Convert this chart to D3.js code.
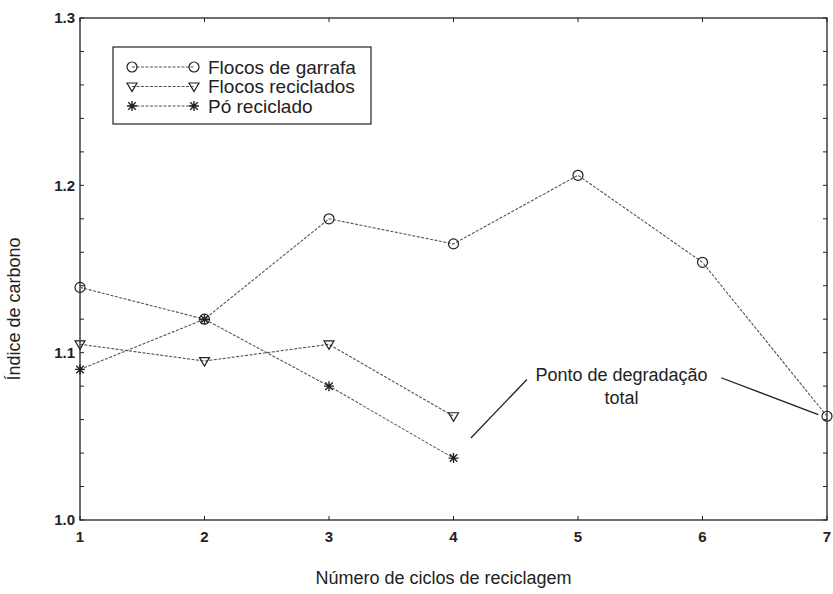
<!DOCTYPE html>
<html>
<head>
<meta charset="utf-8">
<script src="https://cdn.jsdelivr.net/npm/d3@7"></script>
<style>
  body { margin: 0; background: #fff; }
  text { font-family: "Liberation Sans", Arial, sans-serif; fill: #222; }
</style>
</head>
<body>
<div id="chart"></div>
<script>
// data
const ciclos = [1, 2, 3, 4, 5, 6, 7];
const flocosGarrafa = [1.139, 1.12, 1.18, 1.165, 1.206, 1.154, 1.062];
const flocosReciclados = [1.105, 1.095, 1.105, 1.062];
const poReciclado = [1.09, 1.12, 1.08, 1.037];
const yTicks = [1.0, 1.1, 1.2, 1.3];
const seriesNames = ["Flocos de garrafa", "Flocos reciclados", "Pó reciclado"];
const markers = ["circle", "triangle", "star"];

const width = 833, height = 594;
const marginTop = 18, marginRight = 6, marginBottom = 74, marginLeft = 80;
const lineColor = "#555";
const inkColor = "#222";

const x = d3.scaleLinear([1, 7], [marginLeft, width - marginRight]);
const y = d3.scaleLinear([1.0, 1.3], [height - marginBottom, marginTop]);

const svg = d3.select("#chart").append("svg")
    .attr("width", width)
    .attr("height", height)
    .attr("viewBox", [0, 0, width, height]);

// frame with inward ticks (integers on x, every 0.02 on y)
const minorY = d3.range(1.0, 1.3001, 0.02);
const tickLen = 4;

svg.append("rect")
    .attr("x", x(1)).attr("y", y(1.3))
    .attr("width", x(7) - x(1)).attr("height", y(1.0) - y(1.3))
    .attr("fill", "none").attr("stroke", inkColor).attr("stroke-width", 1.3);

const ticks = svg.append("g").attr("stroke", inkColor).attr("stroke-width", 1);
ticks.selectAll(".yl").data(minorY).join("line")
    .attr("x1", x(1)).attr("x2", x(1) + tickLen)
    .attr("y1", d => y(d)).attr("y2", d => y(d));
ticks.selectAll(".yr").data(minorY).join("line")
    .attr("x1", x(7)).attr("x2", x(7) - tickLen)
    .attr("y1", d => y(d)).attr("y2", d => y(d));
ticks.selectAll(".xb").data(ciclos).join("line")
    .attr("x1", d => x(d)).attr("x2", d => x(d))
    .attr("y1", y(1.0)).attr("y2", y(1.0) - tickLen);
ticks.selectAll(".xt").data(ciclos).join("line")
    .attr("x1", d => x(d)).attr("x2", d => x(d))
    .attr("y1", y(1.3)).attr("y2", y(1.3) + tickLen);

// tick labels
svg.append("g")
    .attr("font-size", 15).attr("font-weight", "bold").attr("text-anchor", "end")
    .selectAll("text").data(yTicks).join("text")
    .attr("x", marginLeft - 5)
    .attr("y", d => y(d))
    .attr("dy", "0.35em")
    .text(d => d3.format(".1f")(d));

svg.append("g")
    .attr("font-size", 15).attr("font-weight", "bold").attr("text-anchor", "middle")
    .selectAll("text").data(ciclos).join("text")
    .attr("x", d => x(d))
    .attr("y", y(1.0) + 22)
    .text(d => d);

// axis titles
svg.append("text")
    .attr("x", (x(1) + x(7)) / 2 - 10)
    .attr("y", height - 10)
    .attr("text-anchor", "middle")
    .attr("font-size", 18)
    .text("Número de ciclos de reciclagem");

svg.append("text")
    .attr("transform", `translate(20,${(y(1.0) + y(1.3)) / 2 + 40}) rotate(-90)`)
    .attr("text-anchor", "middle")
    .attr("font-size", 18)
    .text("Índice de carbono");

// marker drawing
function drawMarker(g, type, r) {
    if (type === "circle") {
        g.append("circle").attr("r", r).attr("fill", "none")
            .attr("stroke", inkColor).attr("stroke-width", 1.2);
    } else if (type === "triangle") {
        g.append("path")
            .attr("d", `M${-r},${-r * 0.7}L${r},${-r * 0.7}L0,${r}Z`)
            .attr("fill", "none").attr("stroke", inkColor).attr("stroke-width", 1.2);
    } else {
        const p = d3.path(), k = r * 0.75;
        p.moveTo(-r, 0); p.lineTo(r, 0);
        p.moveTo(0, -r); p.lineTo(0, r);
        p.moveTo(-k, -k); p.lineTo(k, k);
        p.moveTo(-k, k); p.lineTo(k, -k);
        g.append("path").attr("d", p.toString())
            .attr("stroke", inkColor).attr("stroke-width", 1.4);
    }
}

const allSeries = [flocosGarrafa, flocosReciclados, poReciclado];
const line = d3.line().x((d, i) => x(ciclos[i])).y(d => y(d));

allSeries.forEach((vals, s) => {
    svg.append("path")
        .datum(vals)
        .attr("fill", "none")
        .attr("stroke", lineColor)
        .attr("stroke-width", 1.1)
        .attr("stroke-dasharray", "3,1.5")
        .attr("d", line);
    svg.append("g").selectAll("g").data(vals).join("g")
        .attr("transform", (d, i) => `translate(${x(ciclos[i])},${y(d)})`)
        .each(function () { drawMarker(d3.select(this), markers[s], 5); });
});

// legend
const legend = svg.append("g");
const lx0 = x(1) + 33, ly0 = y(1.3) + 29;
legend.append("rect")
    .attr("x", lx0).attr("y", ly0)
    .attr("width", 258).attr("height", 77)
    .attr("fill", "#fff").attr("stroke", inkColor).attr("stroke-width", 1.2);
seriesNames.forEach((name, s) => {
    const ry = ly0 + 20 + s * 19.5;
    const row = legend.append("g");
    row.append("line")
        .attr("x1", lx0 + 19).attr("x2", lx0 + 81)
        .attr("y1", ry).attr("y2", ry)
        .attr("stroke", lineColor).attr("stroke-width", 1.1)
        .attr("stroke-dasharray", "3,1.5");
    [lx0 + 19, lx0 + 81].forEach(px => {
        const m = row.append("g").attr("transform", `translate(${px},${ry})`);
        drawMarker(m, markers[s], 5);
    });
    row.append("text")
        .attr("x", lx0 + 95).attr("y", ry)
        .attr("dy", "0.35em")
        .attr("font-size", 19)
        .text(name);
});

// annotation
const annot = svg.append("g");
annot.append("text")
    .attr("text-anchor", "middle").attr("font-size", 18)
    .selectAll("tspan").data(["Ponto de degradação", "total"]).join("tspan")
    .attr("x", x(5.35))
    .attr("y", (d, i) => y(1.087) + i * 23)
    .attr("dy", "0.35em")
    .text(d => d);
const arrows = [
    [[4.59, 1.084], [4.14, 1.049]],
    [[6.15, 1.085], [6.93, 1.063]]
];
annot.selectAll("line").data(arrows).join("line")
    .attr("x1", d => x(d[0][0])).attr("y1", d => y(d[0][1]))
    .attr("x2", d => x(d[1][0])).attr("y2", d => y(d[1][1]))
    .attr("stroke", inkColor).attr("stroke-width", 1.3);
</script>
</body>
</html>
